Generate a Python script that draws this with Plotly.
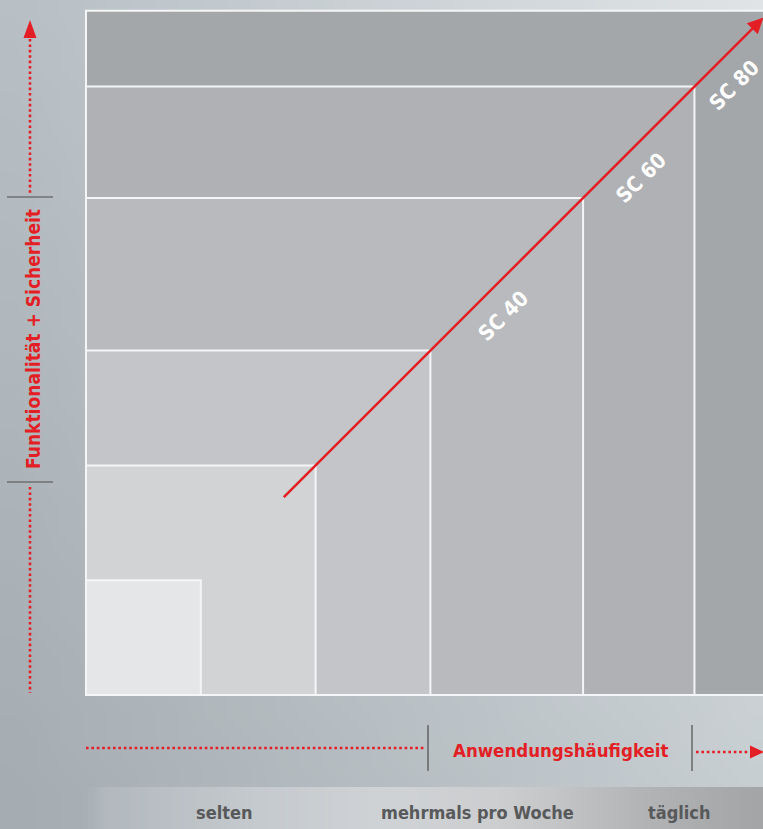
import numpy as np, zlib, struct, base64
import plotly.graph_objects as go

# ---------------- data ----------------
series_names = ["SC 40", "SC 60", "SC 80"]
label_pos = [3.47, 4.67, 5.475]          # position along the diagonal
freq_labels = ["selten", "mehrmals pro Woche", "täglich"]
freq_pos = [1.20, 3.406, 5.164]
rect_w = [6.6, 5.30, 4.33, 3.0, 2.0, 1.0]   # nested squares (largest first)
rect_h = [5.96, 5.30, 4.33, 3.0, 2.0, 1.0]
rect_colors = ["#a4a7aa", "#b0b1b4", "#b8babd", "#c4c5c8", "#d2d3d5", "#e5e6e8"]
line_start, line_end = 1.71, 5.90
y_title = "Funktionalität + Sicherheit"
x_title = "Anwendungshäufigkeit"

W, H = 763, 829
U = 114.8          # px per unit
X0, Y0 = 86, 695   # pixel origin of the nested squares
RED = "#e31e24"
FONT = "DejaVu Sans Condensed, Liberation Sans Narrow, Roboto Condensed, sans-serif"

def px(x, y):
    return x / W, 1 - y / H

def png_uri(arr):
    h, w, _ = arr.shape
    raw = b''.join(b'\x00' + arr[i].astype(np.uint8).tobytes() for i in range(h))
    def chunk(t, d):
        c = struct.pack('>I', len(d)) + t + d
        return c + struct.pack('>I', zlib.crc32(t + d) & 0xffffffff)
    png = (b'\x89PNG\r\n\x1a\n' + chunk(b'IHDR', struct.pack('>IIBBBBB', w, h, 8, 2, 0, 0, 0))
           + chunk(b'IDAT', zlib.compress(raw)) + chunk(b'IEND', b''))
    return 'data:image/png;base64,' + base64.b64encode(png).decode()

# background gradient (bilinear corners)
TL = np.array([184, 192, 198]); TR = np.array([224, 228, 231])
BL = np.array([165, 173, 178]); BR = np.array([199, 206, 210])
n = 32
u = np.linspace(0, 1, n)[None, :, None]
v = np.linspace(0, 1, n)[:, None, None]
bg = (TL * (1 - u) * (1 - v) + TR * u * (1 - v) + BL * (1 - u) * v + BR * u * v)
bg_uri = png_uri(np.clip(bg, 0, 255))

# bottom band gradient
stops_x = [88, 100, 250, 380, 500, 560, 640, 763]
stops_c = [(171, 178, 183), (178, 185, 190), (197, 202, 206), (208, 211, 214),
           (205, 206, 208), (196, 197, 199), (180, 181, 183), (164, 165, 167)]
bx = np.linspace(88, 763, 136)
band = np.stack([np.interp(bx, stops_x, [c[k] for c in stops_c]) for k in range(3)], axis=-1)
band = np.repeat(band[None, :, :], 2, axis=0)
band_uri = png_uri(np.clip(band, 0, 255))

fig = go.Figure()
fig.add_trace(go.Scatter(x=[0], y=[0], mode="markers", marker=dict(opacity=0), hoverinfo="skip", showlegend=False))

shapes = []
for w_, h_, c in zip(rect_w, rect_h, rect_colors):
    shapes.append(dict(type="rect", xref="x", yref="y", x0=0, y0=0, x1=w_, y1=h_,
                       fillcolor=c, line=dict(color="#f4f5f6", width=2), layer="below"))

dot = dict(color=RED, width=2.6, dash="2.6px,2.8px")
def pline(x0, y0, x1, y1, line):
    a = px(x0, y0); b = px(x1, y1)
    return dict(type="line", xref="paper", yref="paper", x0=a[0], y0=a[1], x1=b[0], y1=b[1], line=line)
def ptri(pts, color):
    p = [px(*q) for q in pts]
    path = "M %f %f L %f %f L %f %f Z" % (p[0][0], p[0][1], p[1][0], p[1][1], p[2][0], p[2][1])
    return dict(type="path", xref="paper", yref="paper", path=path, fillcolor=color, line=dict(width=0))

dark = dict(color="#4d4d4d", width=1.2)
shapes += [
    pline(30, 39, 30, 193, dot),
    pline(30, 487, 30, 693, dot),
    ptri([(23.5, 38), (36.5, 38), (30, 20)], RED),
    pline(7, 197, 53, 197, dark),
    pline(7, 482, 53, 482, dark),
    pline(86, 748, 425, 748, dot),
    pline(428, 725, 428, 771, dark),
    pline(692, 725, 692, 771, dark),
    pline(696, 752, 752, 752, dot),
    ptri([(750, 745.5), (750, 758.5), (764, 752)], RED),
]

annotations = []
# red arrow
annotations.append(dict(x=line_end, y=line_end, ax=line_start, ay=line_start, xref="x", yref="y",
                        axref="x", ayref="y", text="", showarrow=True, arrowhead=2, arrowsize=1.2,
                        arrowwidth=2.6, arrowcolor=RED, standoff=0))
for name, t in zip(series_names, label_pos):
    d = 0.166
    annotations.append(dict(x=t + d, y=t - d, xref="x", yref="y", text="<b>%s</b>" % name,
                            showarrow=False, textangle=-45, xanchor="center", yanchor="middle",
                            font=dict(family=FONT, size=21, color="white")))
for lab, xp in zip(freq_labels, freq_pos):
    annotations.append(dict(x=xp, y=px(0, 812)[1], xref="x", yref="paper", text="<b>%s</b>" % lab,
                            showarrow=False, xanchor="center", yanchor="middle",
                            font=dict(family=FONT, size=18, color="#58595b")))
ax_, ay_ = px(33, 339)
annotations.append(dict(x=ax_, y=ay_, xref="paper", yref="paper", text="<b>%s</b>" % y_title,
                        showarrow=False, textangle=-90, xanchor="center", yanchor="middle",
                        font=dict(family=FONT, size=19, color=RED)))
bx_, by_ = px(560, 750)
annotations.append(dict(x=bx_, y=by_, xref="paper", yref="paper", text="<b>%s</b>" % x_title,
                        showarrow=False, xanchor="center", yanchor="middle",
                        font=dict(family=FONT, size=18.5, color=RED)))

fig.update_layout(
    width=W, height=H, margin=dict(l=0, r=0, t=0, b=0),
    paper_bgcolor="#bcc3c8", plot_bgcolor="rgba(0,0,0,0)",
    xaxis=dict(range=[-X0 / U, (W - X0) / U], visible=False, fixedrange=True),
    yaxis=dict(range=[-(H - Y0) / U, Y0 / U], visible=False, fixedrange=True),
    shapes=shapes, annotations=annotations, showlegend=False,
    images=[
        dict(source=bg_uri, xref="paper", yref="paper", x=0, y=1, sizex=1, sizey=1,
             sizing="stretch", xanchor="left", yanchor="top", layer="below"),
        dict(source=band_uri, xref="paper", yref="paper", x=88 / W, y=1 - 787 / H,
             sizex=1 - 88 / W, sizey=(H - 787) / H, sizing="stretch", xanchor="left",
             yanchor="top", layer="below"),
    ],
)
fig.write_html("out.html", config={"displayModeBar": False},
               post_script="document.body.style.margin='0';")
